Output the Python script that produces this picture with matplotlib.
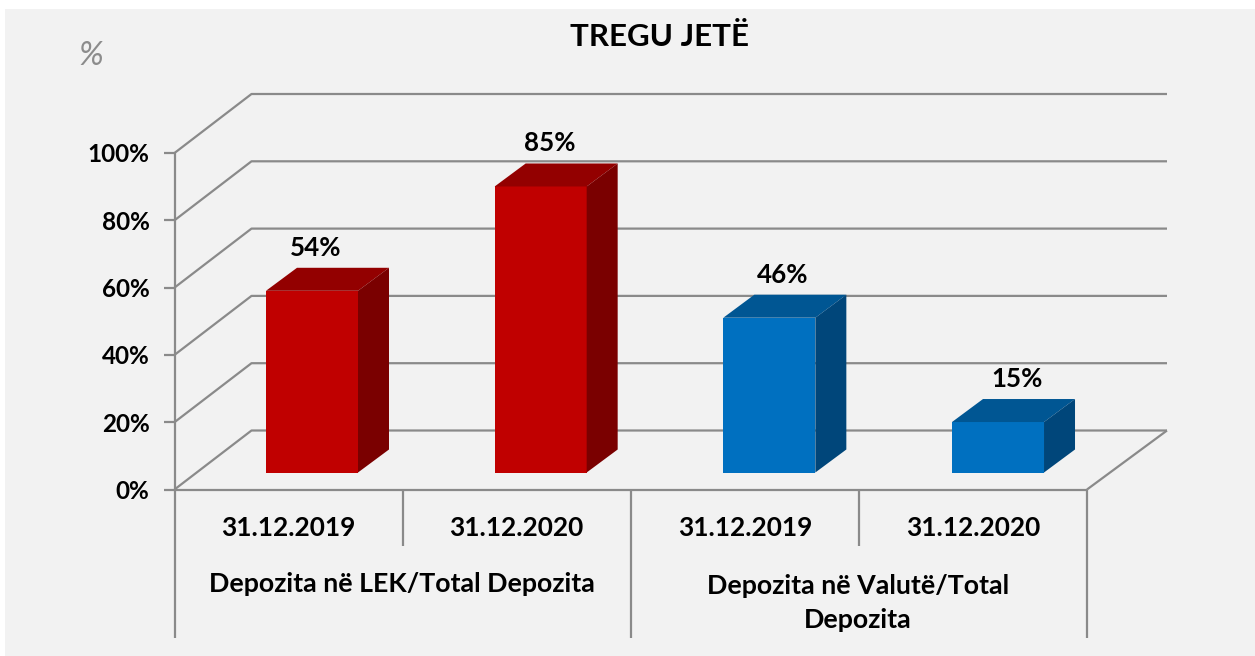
import matplotlib
matplotlib.use("Agg")
import matplotlib.pyplot as plt
from matplotlib.patches import Polygon, Rectangle

plt.rcParams['font.family'] = ['Lato', 'DejaVu Sans']

title = "TREGU JETË"
unit_label = "%"
date_labels = ["31.12.2019", "31.12.2020", "31.12.2019", "31.12.2020"]
group_labels = ["Depozita në LEK/Total Depozita", "Depozita në Valutë/Total\nDepozita"]
values = [54, 85, 46, 15]
y_ticks = [0, 20, 40, 60, 80, 100]

W, H = 1255, 656
fig = plt.figure(figsize=(W/100, H/100), dpi=100, facecolor="white")
fig.add_artist(Rectangle((5/W, 0), 1250/W, (656-9)/H, transform=fig.transFigure, fc="#f2f2f2", ec="none", zorder=-10))

L, R, T, B = 174.5, 1087, 153, 489.5
ax = fig.add_axes([L/W, 1-B/H, (R-L)/W, (B-T)/H])
ax.patch.set_alpha(0)
ax.set_xlim(0, 4)
ax.set_ylim(0, 100)
for s in ["top", "right", "bottom", "left"]:
    ax.spines[s].set_visible(False)

# 1 px in data units
PX = 4/(R-L)
PY = 100/(B-T)
GRID = "#8a8a8a"
DX, DY = 77*PX, 59*PY        # full wall depth
DXR = 80*PX
BDX, BDY = 31*PX, 23*PY      # bar depth
SY = 17*PY                   # bar offset from the front floor edge
BAR_W = 92*PX
STEP = 228.67*PX
START = 91.5*PX
LABEL_DX = [50, 55, 59, 65]
FONT = 18.9

def line(xs, ys, **kw):
    kw.setdefault("color", GRID)
    kw.setdefault("lw", 1.6)
    kw.setdefault("clip_on", False)
    kw.setdefault("solid_capstyle", "butt")
    ax.plot(xs, ys, **kw)

# walls
for t in y_ticks:
    line([0, DX, 4+DXR], [t, t+DY, t+DY], zorder=1)
line([4, 4+DXR], [0, DY], zorder=1)
line([0, 0], [0, 100], zorder=2)
line([0, 4], [0, 0], zorder=2)

# separators under the axis
line([0, 0], [0, -148*PY], zorder=2)
line([2, 2], [0, -148*PY], zorder=2)
line([4, 4], [0, -148*PY], zorder=2)
line([1, 1], [0, -56*PY], zorder=2)
line([3, 3], [0, -56*PY], zorder=2)

ax.set_yticks(y_ticks)
ax.set_yticklabels([f"{t}%" for t in y_ticks], fontsize=17.5, fontweight="bold", color="black")
ax.tick_params(axis="y", length=8, width=1.6, color=GRID, pad=10)
ax.set_xticks([])

# bars
colors = ["#c00000", "#c00000", "#0070c0", "#0070c0"]
tops = ["#930000", "#930000", "#005693", "#005693"]
sides = ["#7a0000", "#7a0000", "#00467a", "#00467a"]
for i, v in enumerate(values):
    x0 = START + i*STEP
    x1 = x0 + BAR_W
    y0 = SY
    y1 = SY + v
    ax.bar(x0, v, width=BAR_W, bottom=y0, align="edge", color=colors[i], zorder=3, clip_on=False)
    ax.add_patch(Polygon([(x0, y1), (x0+BDX, y1+BDY), (x1+BDX, y1+BDY), (x1, y1)], fc=tops[i], ec="none", zorder=3, clip_on=False))
    ax.add_patch(Polygon([(x1, y0), (x1+BDX, y0+BDY), (x1+BDX, y1+BDY), (x1, y1)], fc=sides[i], ec="none", zorder=3, clip_on=False))
    ax.text(x0 + LABEL_DX[i]*PX, y1 + BDY + 20*PY, f"{v}%", ha="center", va="center",
            fontsize=18.7, fontweight="bold", color="black", zorder=4)

# category labels
for i, lab in enumerate(date_labels):
    ax.text(i + 0.5, -39*PY, lab, ha="center", va="center", fontsize=FONT, fontweight="bold")
ax.text(0.995, -95*PY, group_labels[0], ha="center", va="center", fontsize=19.3, fontweight="bold")
ax.text(2.995, -113.5*PY, group_labels[1], ha="center", va="center", fontsize=19.3, fontweight="bold", linespacing=1.55)

fig.text(660/W, 1-37/H, title, ha="center", va="center", fontsize=22.6, fontweight="bold")
fig.text(91/W, 1-56/H, unit_label, ha="center", va="center", fontsize=24, style="italic", color="#8c8c8c")

fig.savefig("out.png", dpi=100)
